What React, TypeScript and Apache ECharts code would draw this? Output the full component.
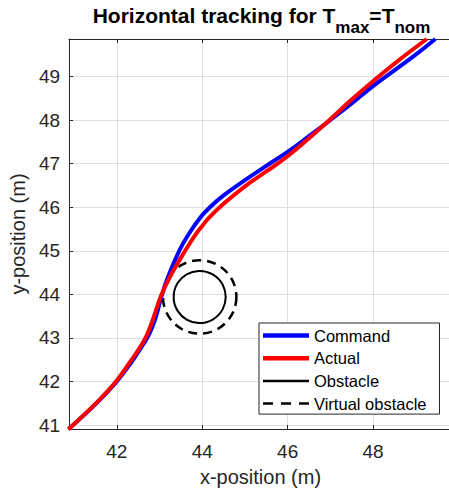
import React, { useEffect, useRef } from "react";
import * as echarts from "echarts";

// Command (blue) trajectory [x, y] in metres
const commandPath: number[][] = [
  [40.87, 40.91], [41.49, 41.47], [41.99, 41.99], [42.36, 42.47], [42.55, 42.75],
  [42.71, 43.00], [42.83, 43.25], [42.92, 43.50], [43.03, 43.90], [43.19, 44.38],
  [43.46, 45.00], [43.68, 45.38], [43.96, 45.77], [44.18, 46.00], [44.50, 46.27],
  [45.00, 46.62], [45.50, 46.95], [46.00, 47.27], [46.50, 47.63], [47.00, 48.00],
  [47.50, 48.38], [48.00, 48.78], [48.50, 49.14], [49.00, 49.50], [49.46, 49.86],
];

// Actual (red) trajectory [x, y] in metres
const actualPath: number[][] = [
  [40.86, 40.90], [41.49, 41.48], [41.98, 42.00], [42.33, 42.48], [42.52, 42.75],
  [42.67, 43.00], [42.78, 43.25], [42.87, 43.50], [43.04, 43.98], [43.27, 44.45],
  [43.60, 45.00], [43.85, 45.38], [44.00, 45.57], [44.15, 45.75], [44.50, 46.08],
  [45.00, 46.48], [45.50, 46.82], [46.00, 47.17], [46.50, 47.58], [47.00, 48.02],
  [47.50, 48.47], [48.00, 48.89], [48.60, 49.37], [49.26, 49.86],
];

// [centre x, centre y, radius]
const obstacle: number[] = [43.94, 43.94, 0.61];
const virtualObstacle: number[] = [43.94, 43.94, 0.86];

const xRange = [40.88, 49.85];
const yRange = [40.91, 49.86];

// Title pieces: [text, isSubscript]
const titleParts: [string, boolean][] = [
  ["Horizontal tracking for T", false],
  ["max", true],
  ["=T", false],
  ["nom", true],
];

const FONT = "Liberation Sans, Arial, Helvetica, sans-serif";
const AX = "#262626";

export default function App() {
  const ref = useRef<HTMLDivElement>(null);

  useEffect(() => {
    if (!ref.current) return;
    const chart = echarts.init(ref.current, null, { renderer: "svg" });

    // title laid out from measured text widths
    const ctx = document.createElement("canvas").getContext("2d") as CanvasRenderingContext2D;
    const mainFont = `bold 21px ${FONT}`;
    const subFont = `bold 17px ${FONT}`;
    const widths = titleParts.map(([t, sub]) => {
      ctx.font = sub ? subFont : mainFont;
      return ctx.measureText(t).width;
    });
    const total = widths.reduce((a, b) => a + b, 0);
    let cx = 261.5 - total / 2;
    const titleEls = titleParts.map(([t, sub], i) => {
      const el = {
        type: "text",
        x: cx,
        y: sub ? 27.4 : 15.4,
        silent: true,
        style: {
          text: t,
          font: sub ? subFont : mainFont,
          fill: "#000",
          align: "left",
          verticalAlign: "middle",
        },
      };
      cx += widths[i];
      return el;
    });

    const circleItem = (dashed: boolean) => (params: any, api: any) => {
      const c = api.coord([api.value(0), api.value(1)]);
      const s = api.size([api.value(2), api.value(2)]);
      return {
        type: "circle",
        shape: { cx: c[0], cy: c[1], r: s[0] },
        style: {
          fill: "none",
          stroke: "#000",
          lineWidth: dashed ? 2.5 : 2,
          lineDash: dashed ? [9, 6] : null,
        },
      };
    };

    const option: any = {
      animation: false,
      backgroundColor: "#fff",
      graphic: titleEls,
      grid: { left: 62, right: 0, top: 39, bottom: 65, containLabel: false },
      legend: {
        orient: "vertical",
        left: 259,
        top: 323,
        backgroundColor: "#fff",
        borderColor: AX,
        borderWidth: 1,
        borderRadius: 0,
        padding: [4, 13, 2, 4],
        itemWidth: 46,
        itemHeight: 14,
        itemGap: 5.7,
        selectedMode: false,
        textStyle: { fontSize: 16.5, fontFamily: FONT, color: "#000" },
        data: [
          { name: "Command", icon: "path://M0,0h46v4.5h-46z", itemStyle: { color: "#0000ff" } },
          { name: "Actual", icon: "path://M0,0h46v4.5h-46z", itemStyle: { color: "#ff0000" } },
          { name: "Obstacle", icon: "path://M0,0h46v2.5h-46z", itemStyle: { color: "#000" } },
          {
            name: "Virtual obstacle",
            icon: "path://M0,0h10v2.5h-10zM18,0h10v2.5h-10zM36,0h10v2.5h-10z",
            itemStyle: { color: "#000" },
          },
        ],
      },
      xAxis: [
        {
          type: "value",
          min: xRange[0],
          max: xRange[1],
          minInterval: 2,
          maxInterval: 2,
          name: "x-position (m)",
          nameLocation: "middle",
          nameGap: 38,
          nameTextStyle: { fontSize: 20, fontFamily: FONT, color: AX },
          axisLine: { show: true, lineStyle: { color: AX, width: 1 } },
          axisTick: { show: true, inside: true, length: 4, lineStyle: { color: AX } },
          axisLabel: {
            fontSize: 19,
            fontFamily: FONT,
            color: AX,
            margin: 13,
            showMinLabel: false,
            showMaxLabel: false,
            formatter: (v: number) => (Number.isInteger(v) ? String(v) : ""),
          },
          splitLine: { show: true, lineStyle: { color: "#dfdfdf", width: 1 } },
        },
        {
          type: "value",
          position: "top",
          min: xRange[0],
          max: xRange[1],
          minInterval: 2,
          maxInterval: 2,
          axisLine: { show: true, onZero: false, lineStyle: { color: AX, width: 1 } },
          axisTick: { show: true, inside: true, length: 4, lineStyle: { color: AX } },
          axisLabel: { show: false },
          splitLine: { show: false },
        },
      ],
      yAxis: {
        type: "value",
        min: yRange[0],
        max: yRange[1],
        minInterval: 1,
        maxInterval: 1,
        name: "y-position (m)",
        nameLocation: "middle",
        nameGap: 33,
        nameTextStyle: { fontSize: 20, fontFamily: FONT, color: AX },
        axisLine: { show: true, onZero: false, lineStyle: { color: AX, width: 1 } },
        axisTick: { show: true, inside: true, length: 4, lineStyle: { color: AX } },
        axisLabel: {
          fontSize: 19,
          fontFamily: FONT,
          color: AX,
          margin: 9,
          showMinLabel: false,
          showMaxLabel: false,
          formatter: (v: number) => (Number.isInteger(v) ? String(v) : ""),
        },
        splitLine: { show: true, lineStyle: { color: "#dfdfdf", width: 1 } },
      },
      series: [
        {
          name: "Command",
          type: "line",
          data: commandPath,
          symbol: "none",
          smooth: 0.4,
          lineStyle: { color: "#0000ff", width: 4 },
          itemStyle: { color: "#0000ff" },
          z: 3,
        },
        {
          name: "Actual",
          type: "line",
          data: actualPath,
          symbol: "none",
          smooth: 0.4,
          lineStyle: { color: "#ff0000", width: 4 },
          itemStyle: { color: "#ff0000" },
          z: 4,
        },
        {
          name: "Obstacle",
          type: "custom",
          data: [obstacle],
          renderItem: circleItem(false),
          itemStyle: { color: "#000" },
          z: 2,
        },
        {
          name: "Virtual obstacle",
          type: "custom",
          data: [virtualObstacle],
          renderItem: circleItem(true),
          itemStyle: { color: "#000" },
          z: 2,
        },
      ],
    };

    chart.setOption(option);
    return () => chart.dispose();
  }, []);

  return (
    <div
      ref={ref}
      style={{ position: "fixed", left: 0, top: 0, width: 452, height: 494 }}
    />
  );
}
